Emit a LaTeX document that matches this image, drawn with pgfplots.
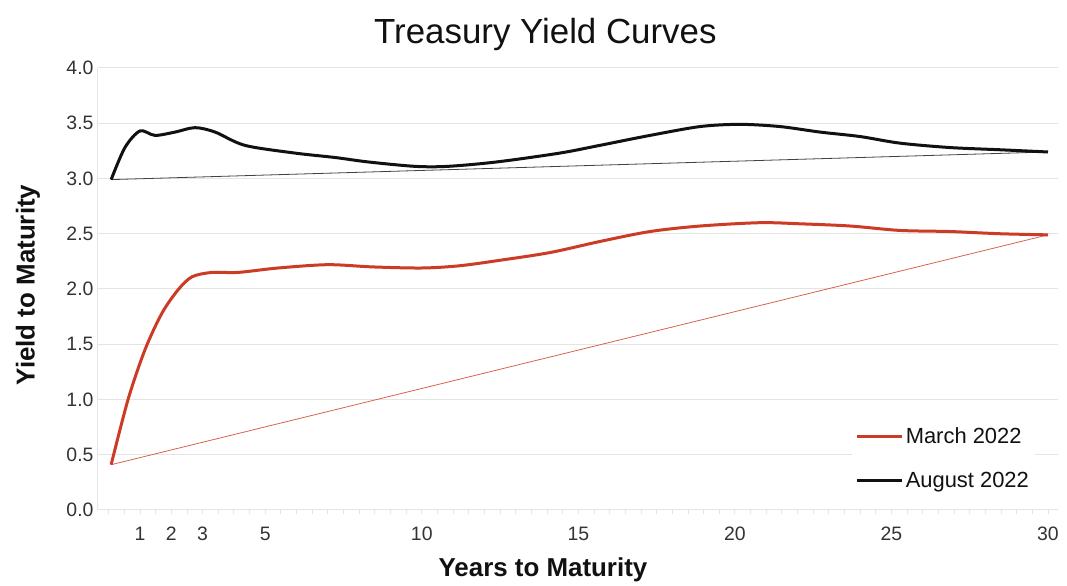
\documentclass[border=0pt]{standalone}
\usepackage{fontspec}
\setmainfont{Liberation Sans}
\usepackage{pgfplots}
\pgfplotsset{compat=1.18}
\definecolor{marchred}{HTML}{CC3B25}
\definecolor{augblack}{HTML}{111111}
\definecolor{gridgray}{HTML}{E4E4E4}
\definecolor{ticktext}{HTML}{333333}

\begin{document}
\begin{tikzpicture}
\begin{axis}[
  scale only axis, width=960bp, height=442bp,
  xmin=-0.34, xmax=30.32, ymin=0, ymax=4,
  axis x line*=bottom, axis y line*=left,
  axis line style={gridgray, line width=1bp},
  ymajorgrids, grid style={gridgray, line width=1bp},
  xtick={1,2,3,5,10,15,20,25,30},
  minor xtick={0,0.5,...,30},
  ytick={0,0.5,...,4},
  xtick style={gridgray, line width=0.8bp},
  ytick style={draw=none},
  tick align=outside, major tick length=4bp, minor tick length=4bp,
  /pgf/number format/.cd, fixed, fixed zerofill, precision=1, assume math mode=true,
  /pgfplots/.cd,
  xticklabel style={/pgf/number format/precision=0, /pgf/number format/fixed zerofill=false,
    anchor=base, text height=14bp, text depth=0bp, yshift=-27bp},
  tick label style={font=\fontsize{19.5}{19.5}\selectfont, text=ticktext},
  yticklabel style={xshift=3bp},
  title={Treasury Yield Curves},
  title style={font=\fontsize{35}{35}\selectfont, text=augblack, at={(0.466,1)}, anchor=base, yshift=19bp},
  xlabel={\textbf{Years to Maturity}},
  xlabel style={font=\fontsize{26}{26}\selectfont, text=augblack, at={(axis description cs:0.4635,0)}, anchor=base, yshift=-67bp},
  ylabel={\textbf{Yield to Maturity}},
  ylabel style={font=\fontsize{26}{26}\selectfont, text=augblack, at={(axis description cs:0,0.509)}, anchor=center, yshift=70bp},
  legend style={at={(rel axis cs:0.785,0.195)}, anchor=north west, draw=none, fill=white,
    font=\fontsize{22}{22}\selectfont, text=augblack, row sep=23bp, inner xsep=4bp},
  legend cell align=left,
  legend image code/.code={\draw[#1] (0bp,0bp) -- (45bp,0bp);},
]
% straight reference lines between the short and long ends
\addplot[marchred!80, line width=0.8bp, forget plot] coordinates {(0.08,0.41) (30,2.49)};
\addplot[augblack!80, line width=0.8bp, forget plot] coordinates {(0.08,2.99) (30,3.24)};
% March 2022
\addplot[marchred, line width=3bp, smooth] coordinates {
  (0.08,0.41) (0.62,1.00) (1.16,1.45) (1.70,1.78) (2.21,1.99) (2.66,2.11)
  (3.30,2.15) (4.13,2.15) (5.41,2.19) (7.00,2.22) (8.41,2.20) (10.00,2.19)
  (11.20,2.21) (12.50,2.26) (14.10,2.33) (15.69,2.43) (17.29,2.52) (18.89,2.57)
  (20.80,2.60) (22.08,2.59) (23.68,2.57) (25.27,2.53) (26.87,2.52) (28.47,2.50) (30,2.49)};
\addlegendentry{March 2022}
% August 2022
\addplot[augblack, line width=3bp, smooth] coordinates {
  (0.08,2.99) (0.52,3.28) (1.00,3.43) (1.48,3.39) (2.12,3.42) (2.76,3.46)
  (3.40,3.42) (4.35,3.30) (5.95,3.23) (7.23,3.19) (8.28,3.15) (9.78,3.11)
  (10.84,3.11) (12.40,3.15) (14.41,3.23) (15.69,3.30) (17.29,3.39) (18.89,3.47)
  (20.16,3.49) (21.44,3.47) (22.72,3.42) (23.99,3.38) (25.27,3.32) (26.87,3.28)
  (28.47,3.26) (30,3.24)};
\addlegendentry{August 2022}
\end{axis}
\path ([xshift=-98bp,yshift=-71bp]current axis.south west) rectangle ([xshift=9bp,yshift=68bp]current axis.north east);
\end{tikzpicture}
\end{document}
